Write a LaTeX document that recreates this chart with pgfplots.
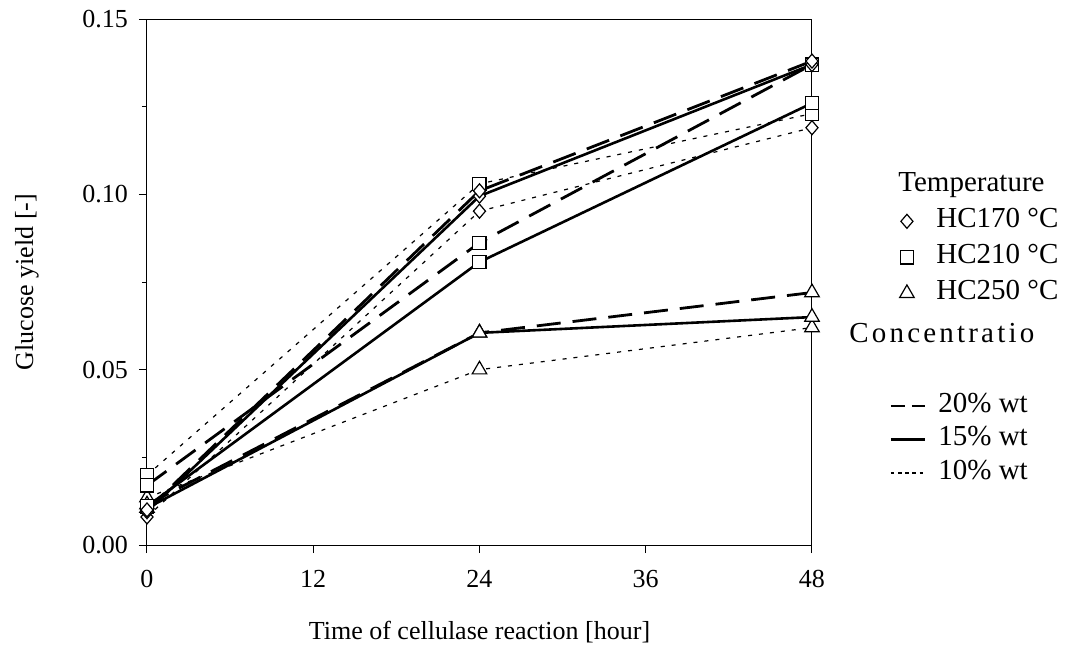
\documentclass[border=0pt]{standalone}
\usepackage{pgfplots}
\pgfplotsset{compat=1.18}
\usepackage{fontspec}
\setmainfont{Liberation Serif}
\pgfplotsset{
 c20/.style={black, line width=1.4pt, dash pattern=on 12pt off 6pt},
 c15/.style={black, line width=1.3pt},
 c10/.style={black, line width=0.6pt, dash pattern=on 2pt off 3.5pt},
 mdia/.style={mark=diamond*, mark size=3.5pt, mark options={solid, fill=white, draw=black, line width=0.6pt, xscale=1.15}},
 msq/.style={mark=square*, mark size=3.3pt, mark options={solid, fill=white, draw=black, line width=0.6pt}},
 mtri/.style={mark=triangle*, mark size=4.2pt, mark options={solid, fill=white, draw=black, line width=0.6pt}},
 markleg/.style={only marks, legend image code/.code={\path (0cm,0cm) (0.6cm,0cm); \draw[mark repeat=2,mark phase=2,##1] plot coordinates {(0cm,0cm)(0.3cm,0cm)(0.6cm,0cm)};}},
 leg/.style={legend style={draw=none, fill=none, inner sep=0pt, outer sep=0pt, anchor=north west,
   font=\fontsize{14.5}{17}\selectfont,
   nodes={inner sep=0pt, text height=10pt, text depth=3.5pt},
   /tikz/every odd column/.append style={column sep=6pt}},
   legend cell align=left},
}
\begin{document}
\begin{tikzpicture}
\useasboundingbox (-73.5pt,-55pt) rectangle (463pt,272.5pt);
\begin{axis}[
 at={(0,0)}, anchor=south west,
 scale only axis, width=332.5pt, height=263pt,
 xmin=0, xmax=48, ymin=0, ymax=0.15,
 xtick={0,12,24,36,48},
 ytick={0,0.05,0.1,0.15},
 minor ytick={0.025,0.075,0.125},
 tick align=outside, xtick pos=left, ytick pos=left,
 major tick length=4pt, minor tick length=2.5pt,
 tick style={black, line width=0.5pt},
 axis line style={line width=0.5pt},
 font=\fontsize{13}{15.6}\selectfont,
 /pgf/number format/assume math mode=true,
 yticklabel style={xshift=-2pt, /pgf/number format/.cd, fixed, fixed zerofill, precision=2},
 xticklabel style={yshift=-5pt},
 scaled y ticks=false,
 clip=false,
 xlabel={Time of cellulase reaction [hour]},
 ylabel={Glucose yield [-]},
 xlabel style={at={(axis description cs:0.5,-0.1654)}, anchor=center},
 ylabel style={at={(axis description cs:-0.1805,0.5)}, anchor=center},
 leg,
 legend style={at={(axis description cs:1.1165,0.641)}, row sep=4.5pt},
]
\addlegendimage{markleg, mdia}
\addlegendentry{HC170 °C}
\addlegendimage{markleg, msq}
\addlegendentry{HC210 °C}
\addlegendimage{markleg, mtri}
\addlegendentry{HC250 °C}
% HC250
\addplot[c10, mtri, forget plot] coordinates {(0,0.0135) (24,0.050) (48,0.062)};
\addplot[c15, mtri, forget plot] coordinates {(0,0.0105) (24,0.0605) (48,0.065)};
\addplot[c20, mtri, forget plot] coordinates {(0,0.0115) (24,0.0605) (48,0.072)};
% HC210
\addplot[c10, msq, forget plot] coordinates {(0,0.0199) (24,0.103) (48,0.123)};
\addplot[c15, msq, forget plot] coordinates {(0,0.011) (24,0.0807) (48,0.126)};
\addplot[c20, msq, forget plot] coordinates {(0,0.017) (24,0.0862) (48,0.137)};
% HC170
\addplot[c10, mdia, forget plot] coordinates {(0,0.008) (24,0.0952) (48,0.119)};
\addplot[c15, mdia, forget plot] coordinates {(0,0.0095) (24,0.0995) (48,0.137)};
\addplot[c20, mdia, forget plot] coordinates {(0,0.0100) (24,0.101) (48,0.138)};
\end{axis}
\begin{axis}[
 at={(0,0)}, anchor=south west,
 scale only axis, width=332.5pt, height=263pt,
 hide axis, xmin=0, xmax=1, ymin=0, ymax=1,
 leg,
 legend style={at={(axis description cs:1.1165,0.290)}, row sep=3.25pt},
]
\addlegendimage{black, line width=1.4pt, dash pattern=on 7pt off 3.5pt}
\addlegendentry{20\% wt}
\addlegendimage{black, line width=1.3pt}
\addlegendentry{15\% wt}
\addlegendimage{black, line width=0.6pt, dash pattern=on 1.8pt off 1.8pt}
\addlegendentry{10\% wt}
\end{axis}
\node[anchor=west, font=\fontsize{14.5}{17}\selectfont, inner sep=0pt] at (375.5pt,180pt) {Temperature};
\node[anchor=west, font=\fontsize{14.5}{17}\selectfont\addfontfeatures{LetterSpace=11}, inner sep=0pt] at (351pt,106pt) {Concentratio};
\end{tikzpicture}
\end{document}
